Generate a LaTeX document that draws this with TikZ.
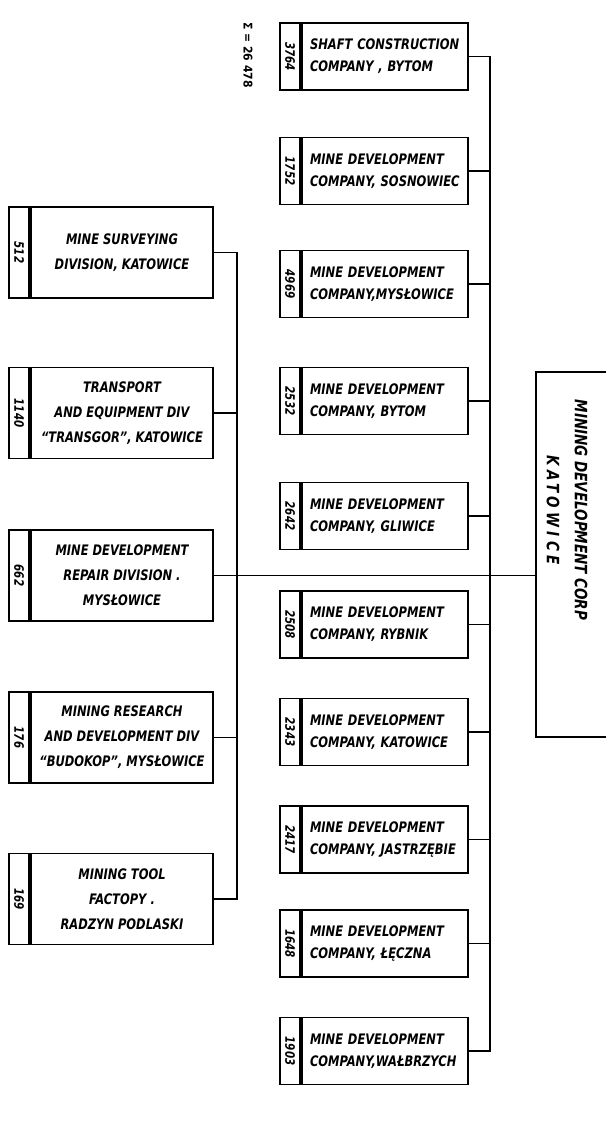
\documentclass[tikz,border=0pt]{standalone}
\usepackage{fontspec}
\setmainfont{DejaVu Sans Condensed}[
  ItalicFont={DejaVu Sans Condensed Oblique},
  BoldFont={DejaVu Sans Condensed Bold},
  BoldItalicFont={DejaVu Sans Condensed Bold Oblique},
  BoldItalicFeatures={FakeStretch=0.88}]

\tikzset{
  unit/.style={draw, line width=1.8pt},
  company/.style={unit, minimum width=166pt, minimum height=67pt,
    text width=150pt, inner xsep=8pt, align=left,
    font=\bfseries\itshape\fontsize{14.5}{22}\selectfont},
  division/.style={unit, minimum width=182pt, minimum height=91pt,
    inner xsep=4pt, align=center,
    font=\bfseries\itshape\fontsize{14.5}{25}\selectfont},
  numstrip/.style={unit, rotate=-90, anchor=north, minimum height=20pt,
    inner sep=0pt, font=\bfseries\itshape\fontsize{13}{13}\selectfont},
  link/.style={line width=1.5pt},
}

\begin{document}
\begin{tikzpicture}[x=1pt, y=-1pt]
  % boxes with their staff number strip on the left
  \newcommand{\Company}[4]{%
    \node[company] (#1) at (385,#2) {#4};
    \node[numstrip, minimum width=67pt] (#1num) at (#1.west) {#3};
  }
  \newcommand{\Division}[4]{%
    \node[division] (#1) at (122,#2) {#4};
    \node[numstrip, minimum width=91pt] (#1num) at (#1.west) {#3};
  }
  \useasboundingbox (0,0) rectangle (606,1128);

  \node[rotate=-90, font=\bfseries\fontsize{12}{12}\selectfont] (total) at (248,55) {Σ = 26 478};

  \Company{c1}{56.5}{3764}{SHAFT CONSTRUCTION\\COMPANY , BYTOM}
  \Company{c2}{171}{1752}{MINE DEVELOPMENT\\COMPANY, SOSNOWIEC}
  \Company{c3}{284}{4969}{MINE DEVELOPMENT\\COMPANY,MYSŁOWICE}
  \Company{c4}{401}{2532}{MINE DEVELOPMENT\\COMPANY, BYTOM}
  \Company{c5}{516}{2642}{MINE DEVELOPMENT\\COMPANY, GLIWICE}
  \Company{c6}{624.5}{2508}{MINE DEVELOPMENT\\COMPANY, RYBNIK}
  \Company{c7}{732}{2343}{MINE DEVELOPMENT\\COMPANY, KATOWICE}
  \Company{c8}{839.5}{2417}{MINE DEVELOPMENT\\COMPANY, JASTRZĘBIE}
  \Company{c9}{943.5}{1648}{MINE DEVELOPMENT\\COMPANY, ŁĘCZNA}
  \Company{c10}{1051}{1903}{MINE DEVELOPMENT\\COMPANY,WAŁBRZYCH}

  \Division{d1}{252.5}{512}{MINE SURVEYING\\DIVISION, KATOWICE}
  \Division{d2}{413}{1140}{TRANSPORT\\AND EQUIPMENT DIV\\“TRANSGOR”, KATOWICE}
  \Division{d3}{575.5}{662}{MINE DEVELOPMENT\\REPAIR DIVISION .\\MYSŁOWICE}
  \Division{d4}{737.5}{176}{MINING RESEARCH\\AND DEVELOPMENT DIV\\“BUDOKOP”, MYSŁOWICE}
  \Division{d5}{899}{169}{MINING TOOL\\FACTOPY .\\RADZYN PODLASKI}

  % head office, open towards the page edge
  \node[minimum width=70pt, minimum height=365pt] (root) at (571,554.5) {};
  \draw[line width=2pt] (root.north east) -- (root.north west) -- (root.south west) -- (root.south east);
  \node[rotate=-90, align=center, font=\bfseries\itshape\fontsize{17}{28}\selectfont] (rootname) at (567,510)
    {MINING DEVELOPMENT CORP\\{\addfontfeatures{LetterSpace=25}KATOWICE}};

  % buses
  \coordinate (rbus) at (490,0);
  \coordinate (lbus) at (237,0);
  \draw[link] (c1.east) -- (c1.east -| rbus) -- (c10.east -| rbus) -- (c10.east);
  \foreach \n in {2,...,9}
    \draw[link] (c\n.east) -- (c\n.east -| rbus);
  \draw[link] (d1.east) -- (d1.east -| lbus) -- (d5.east -| lbus) -- (d5.east);
  \foreach \n in {2,4}
    \draw[link] (d\n.east) -- (d\n.east -| lbus);
  \draw[link] (d3.east) -- (d3.east -| root.west);

\end{tikzpicture}
\end{document}
